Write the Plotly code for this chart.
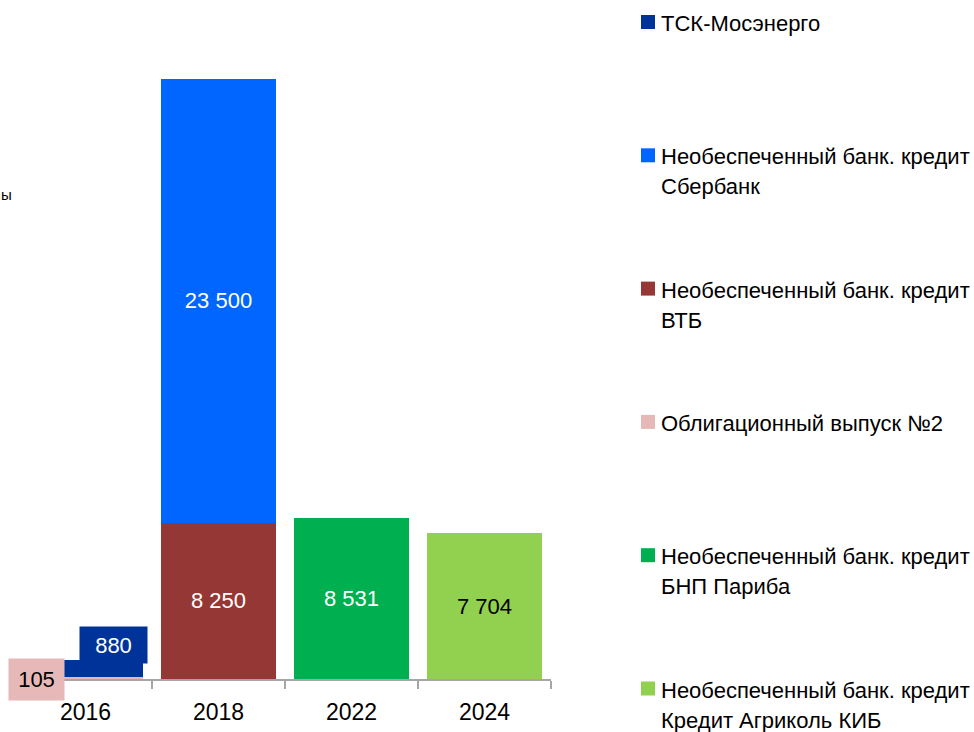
import plotly.graph_objects as go

years = ["2016", "2018", "2022", "2024"]
names = [
    "Необеспеченный банк. кредит<br>Кредит Агриколь КИБ",
    "Необеспеченный банк. кредит<br>БНП Париба",
    "Облигационный выпуск №2",
    "Необеспеченный банк. кредит<br>ВТБ",
    "Необеспеченный банк. кредит<br>Сбербанк",
    "ТСК-Мосэнерго",
]
ca = [None, None, None, 7704]
bnp = [None, None, 8531, None]
bond = [105, None, None, None]
vtb = [None, 8250, None, None]
sber = [None, 23500, None, None]
tsk = [880, None, None, None]
series = [ca, bnp, bond, vtb, sber, tsk]
colors = ["#92D050", "#00B050", "#E6B9B8", "#953735", "#0066FF", "#003399"]
text_colors = ["black", "white", "black", "white", "white", "white"]
show_inside = [True, True, False, True, True, False]

FONT = "Liberation Sans, Arial, sans-serif"

fig = go.Figure()
for vals, name, col, tcol, inside in zip(series, names, colors, text_colors, show_inside):
    fig.add_trace(go.Bar(
        x=years, y=vals, name=name.replace("<br>", " "), marker=dict(color=col, line=dict(width=0)),
        texttemplate="%{y:,.0f}" if inside else None,
        textposition="inside" if inside else "none",
        insidetextanchor="middle", textangle=0, constraintext="none",
        textfont=dict(family=FONT, size=22, color=tcol),
        showlegend=False, hoverinfo="x+y+name",
    ))

def fmt(v):
    return f"{v:,}".replace(",", " ")

annotations = []
# custom-placed labels for the 2016 column (x given as category index)
i2016 = years.index("2016")
annotations.append(dict(x=i2016, y=bond[0] + tsk[0], xref="x", yref="y", text=fmt(tsk[0]),
                        showarrow=False, xshift=28, yshift=15, width=65, height=34,
                        bgcolor=colors[5], font=dict(family=FONT, size=22, color="white")))
annotations.append(dict(x=i2016, y=0, xref="x", yref="y", text=fmt(bond[0]),
                        showarrow=False, xshift=-49, yshift=0, width=53, height=39,
                        bgcolor=colors[2], font=dict(family=FONT, size=22, color="black")))

# manual legend (top to bottom: reverse of stacking order)
PLOT_L, PLOT_W, PLOT_B, PLOT_H = 19, 532, 679, 643
def px(x):
    return (x - PLOT_L) / PLOT_W
def py(y):
    return (PLOT_B - y) / PLOT_H

shapes = []
legend_names = names[::-1]
legend_colors = colors[::-1]
for i, (nm, col) in enumerate(zip(legend_names, legend_colors)):
    cy = 22 + 133.3 * i
    shapes.append(dict(type="rect", xref="paper", yref="paper",
                       x0=px(641), x1=px(655), y0=py(cy - 7), y1=py(cy + 7),
                       fillcolor=col, line=dict(width=0)))
    for j, line in enumerate(nm.split("<br>")):
        annotations.append(dict(x=px(659), y=py(cy + 1.5 + 30 * j), xref="paper", yref="paper",
                                xanchor="left", yanchor="middle", text=line, showarrow=False,
                                font=dict(family=FONT, size=22, color="black")))

# cut-off axis title remnant
annotations.append(dict(x=px(-1), y=py(195), xref="paper", yref="paper", xanchor="left",
                        yanchor="middle", text="ы", showarrow=False,
                        font=dict(family=FONT, size=15, color="black")))

fig.update_layout(
    width=974, height=732, autosize=False,
    margin=dict(l=19, r=423, t=36, b=53, pad=0),
    barmode="stack", bargap=0.135,
    separators=", ",
    plot_bgcolor="white", paper_bgcolor="white",
    showlegend=False,
    annotations=annotations, shapes=shapes,
    xaxis=dict(type="category", range=[-0.5, 3.5], showline=True, linecolor="#A6A6A6", linewidth=1.5,
               ticks="outside", tickson="boundaries", ticklen=8, tickcolor="#A6A6A6", tickwidth=1.5,
               ticklabelstandoff=12, automargin=False,
               showgrid=False, tickfont=dict(family=FONT, size=23, color="black")),
    yaxis=dict(range=[0, 34000], visible=False, showgrid=False, zeroline=False, automargin=False),
)
fig.write_html("out.html", config={"displayModeBar": False},
               post_script="document.body.style.margin='0';document.body.style.overflow='hidden';")
